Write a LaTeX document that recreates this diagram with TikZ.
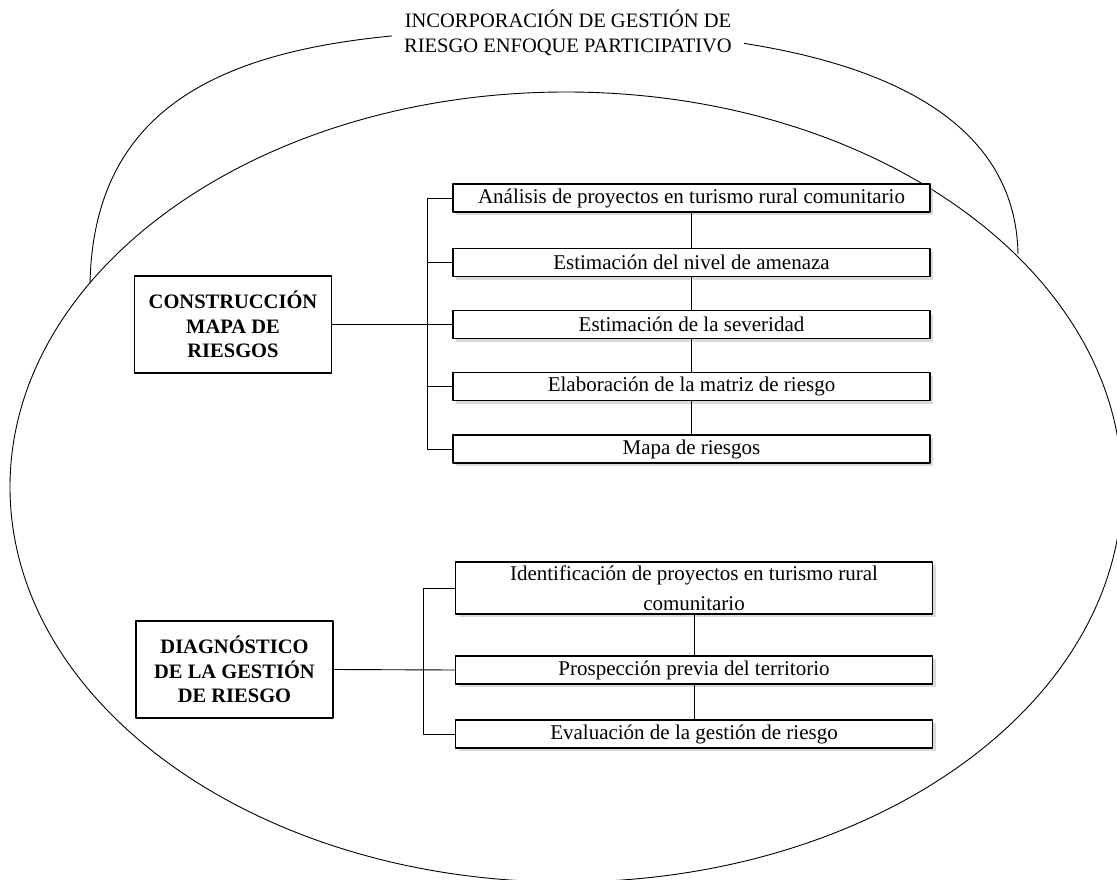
\documentclass[tikz,border=0pt]{standalone}
\usepackage{fontspec}
\setmainfont{Liberation Serif}
\usepackage{tikz}
\usetikzlibrary{shadows}
\tikzset{
  every picture/.style={line join=round, line cap=round},
  link/.style={line width=0.9pt},
  stage/.style={draw, line width=1.2pt, fill=white, align=center,
    font=\fontsize{20.5}{24.5}\selectfont\bfseries,
    minimum width=197pt, minimum height=97pt, inner sep=2pt},
  task/.style={draw, line width=1.2pt, fill=white, align=center, minimum width=477pt,
    minimum height=28pt, inner sep=1pt, font=\fontsize{21}{25}\selectfont,
    drop shadow={shadow xshift=3pt, shadow yshift=-3pt, fill=black!28}},
}

\begin{document}
\begin{tikzpicture}[x=1pt,y=-1pt,font=\fontsize{20.5}{25}\selectfont]
\path[use as bounding box,fill=white] (0,0) rectangle (1117,880);
\clip (0,0) rectangle (1117,880);
% outer arc and inner ellipse
\draw[link] (90,283) .. controls (95,60) and (300,28) .. (562,30)
  .. controls (805,32) and (1015,85) .. (1018,254);
\draw[link] (566,487) ellipse [x radius=556, y radius=395];
\node[fill=white,inner xsep=12pt,inner ysep=2pt,align=center] (title) at (568,32.5)
  {INCORPORACIÓN DE GESTIÓN DE\\RIESGO ENFOQUE PARTICIPATIVO};
% upper block
\node[stage] (mapa) at (233,324.5) {CONSTRUCCIÓN\\MAPA DE\\RIESGOS};
\node[task] (m1) at (691.5,198) {Análisis de proyectos en turismo rural comunitario};
\node[task] (m2) at (691.5,262.5) {Estimación del nivel de amenaza};
\node[task] (m3) at (691.5,324.5) {Estimación de la severidad};
\node[task] (m4) at (691.5,386.5) {Elaboración de la matriz de riesgo};
\node[task] (m5) at (691.5,449) {Mapa de riesgos};
\coordinate (busA) at (427,324.5);
\draw[link] (m1.west) -- (m1.west -| busA) -- (m5.west -| busA) -- (m5.west);
\foreach \i in {2,3,4}
  \draw[link] (m\i.west) -- (m\i.west -| busA);
\draw[link] (mapa.east) -- (mapa.east -| busA);
\foreach \a/\b in {m1/m2,m2/m3,m3/m4,m4/m5}
  \draw[link] (\a.south) -- (\b.north);
% lower block
\node[stage] (diag) at (234.5,669.5) {DIAGNÓSTICO\\DE LA GESTIÓN\\DE RIESGO};
\node[task,minimum height=52pt,font=\fontsize{21}{30}\selectfont] (d1) at (694,588)
  {Identificación de proyectos en turismo rural\\comunitario};
\node[task] (d2) at (694,670) {Prospección previa del territorio};
\node[task] (d3) at (694,734) {Evaluación de la gestión de riesgo};
\coordinate (busB) at (423,670);
\draw[link] (d1.west) -- (d1.west -| busB) -- (d3.west -| busB) -- (d3.west);
\draw[link] (diag.east) -- (d2.west);
\foreach \a/\b in {d1/d2,d2/d3}
  \draw[link] (\a.south) -- (\b.north);
\end{tikzpicture}
\end{document}
